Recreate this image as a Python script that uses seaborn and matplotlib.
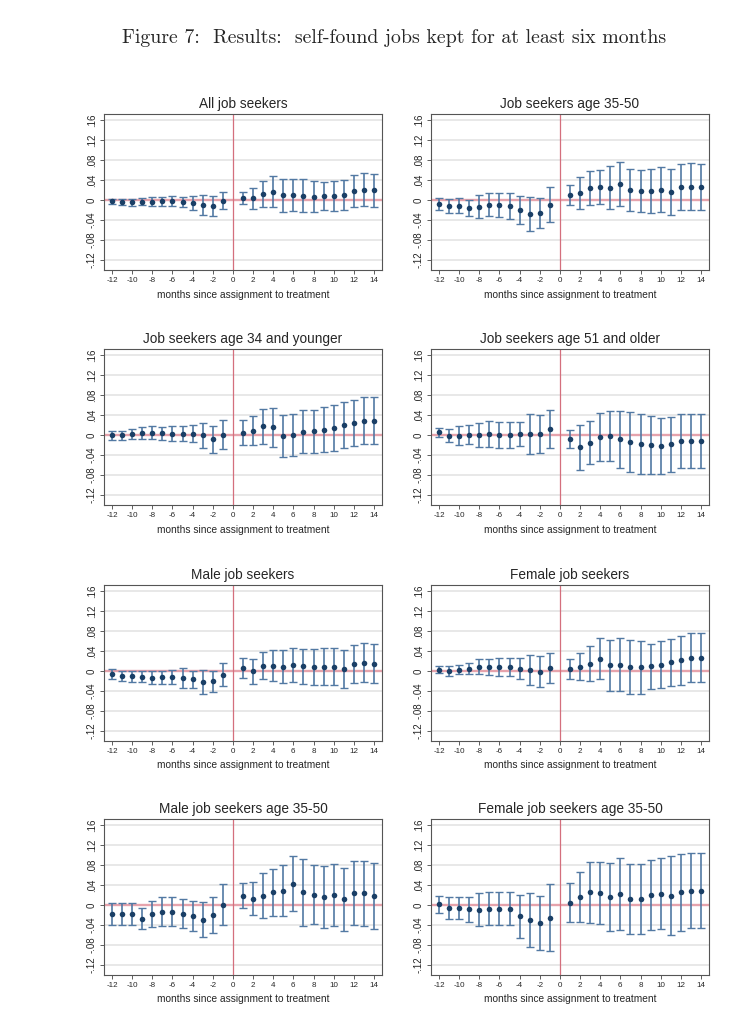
import numpy as np
import pandas as pd
import matplotlib
matplotlib.use("Agg")
import matplotlib.pyplot as plt
import seaborn as sns

# months relative to assignment (month 0 is the reference, not estimated)
months = [-12, -11, -10, -9, -8, -7, -6, -5, -4, -3, -2, -1,
          1, 2, 3, 4, 5, 6, 7, 8, 9, 10, 11, 12, 13, 14]

titles = ["All job seekers", "Job seekers age 35-50",
          "Job seekers age 34 and younger", "Job seekers age 51 and older",
          "Male job seekers", "Female job seekers",
          "Male job seekers age 35-50", "Female job seekers age 35-50"]

# point estimates and half-widths of the 95% CI
coef_all = [-0.002, -0.004, -0.004, -0.003, -0.003, -0.002, -0.002, -0.003, -0.006, -0.009, -0.012, -0.001,
            0.005, 0.004, 0.012, 0.017, 0.010, 0.011, 0.009, 0.007, 0.009, 0.009, 0.011, 0.018, 0.021, 0.020]
ci_all = [0.005, 0.006, 0.007, 0.007, 0.009, 0.009, 0.010, 0.010, 0.014, 0.020, 0.020, 0.017,
          0.012, 0.021, 0.026, 0.031, 0.033, 0.032, 0.033, 0.031, 0.028, 0.030, 0.030, 0.032, 0.033, 0.033]

coef_3550 = [-0.008, -0.011, -0.011, -0.015, -0.013, -0.009, -0.009, -0.011, -0.020, -0.027, -0.025, -0.009,
             0.011, 0.015, 0.024, 0.027, 0.025, 0.032, 0.020, 0.018, 0.019, 0.021, 0.016, 0.026, 0.027, 0.026]
ci_3550 = [0.012, 0.014, 0.015, 0.016, 0.023, 0.023, 0.024, 0.026, 0.028, 0.034, 0.030, 0.035,
           0.020, 0.032, 0.034, 0.034, 0.043, 0.044, 0.042, 0.042, 0.044, 0.045, 0.046, 0.046, 0.047, 0.046]

coef_young = [0.000, 0.000, 0.002, 0.005, 0.005, 0.004, 0.003, 0.003, 0.003, 0.000, -0.008, 0.001,
              0.005, 0.009, 0.018, 0.016, -0.002, 0.000, 0.007, 0.008, 0.011, 0.015, 0.020, 0.024, 0.029, 0.029]
ci_young = [0.009, 0.009, 0.010, 0.012, 0.013, 0.013, 0.015, 0.015, 0.017, 0.025, 0.027, 0.029,
            0.025, 0.029, 0.035, 0.039, 0.042, 0.042, 0.043, 0.043, 0.045, 0.046, 0.046, 0.046, 0.047, 0.047]

coef_old = [0.006, -0.001, -0.001, 0.001, 0.001, 0.002, 0.001, 0.001, 0.002, 0.003, 0.003, 0.012,
            -0.007, -0.024, -0.015, -0.004, -0.001, -0.008, -0.013, -0.018, -0.019, -0.021, -0.018, -0.011, -0.011, -0.011]
ci_old = [0.009, 0.013, 0.019, 0.019, 0.024, 0.026, 0.026, 0.026, 0.024, 0.040, 0.038, 0.038,
          0.018, 0.045, 0.043, 0.048, 0.050, 0.057, 0.060, 0.060, 0.058, 0.056, 0.055, 0.054, 0.054, 0.054]

coef_male = [-0.006, -0.009, -0.010, -0.011, -0.013, -0.012, -0.012, -0.014, -0.016, -0.021, -0.020, -0.007,
             0.007, 0.000, 0.011, 0.011, 0.009, 0.013, 0.010, 0.009, 0.009, 0.009, 0.005, 0.015, 0.017, 0.015]
ci_male = [0.010, 0.010, 0.011, 0.011, 0.013, 0.013, 0.014, 0.020, 0.017, 0.024, 0.021, 0.023,
           0.020, 0.025, 0.027, 0.031, 0.033, 0.034, 0.035, 0.036, 0.037, 0.037, 0.038, 0.038, 0.039, 0.039]

coef_female = [0.003, 0.001, 0.003, 0.005, 0.009, 0.009, 0.009, 0.009, 0.005, 0.003, -0.001, 0.007,
               0.005, 0.009, 0.015, 0.025, 0.012, 0.013, 0.009, 0.008, 0.010, 0.013, 0.018, 0.022, 0.027, 0.027]
ci_female = [0.007, 0.010, 0.009, 0.011, 0.015, 0.016, 0.018, 0.018, 0.021, 0.030, 0.031, 0.030,
             0.020, 0.027, 0.035, 0.041, 0.051, 0.053, 0.054, 0.053, 0.045, 0.047, 0.047, 0.049, 0.049, 0.049]

coef_male3550 = [-0.018, -0.018, -0.018, -0.027, -0.017, -0.013, -0.013, -0.017, -0.021, -0.029, -0.020, 0.001,
                 0.019, 0.013, 0.019, 0.026, 0.029, 0.043, 0.026, 0.021, 0.017, 0.021, 0.012, 0.024, 0.024, 0.019]
ci_male3550 = [0.022, 0.022, 0.022, 0.021, 0.026, 0.029, 0.029, 0.029, 0.030, 0.035, 0.036, 0.041,
               0.025, 0.033, 0.045, 0.047, 0.051, 0.055, 0.067, 0.059, 0.062, 0.062, 0.063, 0.064, 0.065, 0.066]

coef_female3550 = [0.002, -0.006, -0.006, -0.008, -0.009, -0.007, -0.007, -0.007, -0.022, -0.030, -0.035, -0.025,
                   0.005, 0.017, 0.026, 0.025, 0.017, 0.023, 0.013, 0.013, 0.021, 0.023, 0.019, 0.026, 0.029, 0.029]
ci_female3550 = [0.017, 0.022, 0.022, 0.025, 0.033, 0.033, 0.033, 0.033, 0.043, 0.054, 0.054, 0.067,
                 0.039, 0.050, 0.061, 0.062, 0.068, 0.072, 0.070, 0.070, 0.070, 0.071, 0.079, 0.077, 0.075, 0.075]

coefs = [coef_all, coef_3550, coef_young, coef_old, coef_male, coef_female, coef_male3550, coef_female3550]
cis = [ci_all, ci_3550, ci_young, ci_old, ci_male, ci_female, ci_male3550, ci_female3550]

ytick_vals = [-0.12, -0.08, -0.04, 0, 0.04, 0.08, 0.12, 0.16]
ytick_labels = ["-.12", "-.08", "-.04", "0", ".04", ".08", ".12", ".16"]
xtick_vals = [-12, -10, -8, -6, -4, -2, 0, 2, 4, 6, 8, 10, 12, 14]

frames = []
for t, c, h in zip(titles, coefs, cis):
    frames.append(pd.DataFrame({"group": t, "month": months, "coef": c,
                                "lo": np.array(c) - np.array(h), "hi": np.array(c) + np.array(h)}))
df = pd.concat(frames, ignore_index=True)

sns.set_theme(style="white")
plt.rcParams["font.family"] = ["Liberation Sans", "DejaVu Sans"]

NAVY = "#1a3f66"
BAR = "#5279a3"
REDLINE = "#d46f7d"

fig = plt.figure(figsize=(7.5, 10.31), dpi=100)
fig.text(394 / 750, 1 - 38 / 1031, "Figure 7:  Results:  self-found jobs kept for at least six months",
         ha="center", va="center", fontsize=14.3, family=["cmr10", "DejaVu Serif"])

lefts = [104 / 750, 431 / 750]
bottoms = [1 - 270 / 1031, 1 - 505 / 1031, 1 - 741 / 1031, 1 - 975 / 1031]
w = 278 / 750
h = 156 / 1031

for i, t in enumerate(titles):
    ax = fig.add_axes([lefts[i % 2], bottoms[i // 2], w, h])
    d = df[df["group"] == t]
    for yv in ytick_vals:
        if yv != 0:
            ax.axhline(yv, color="#e8e8e8", lw=1.4, zorder=0)
    ax.axhline(0, color="#e6a3ac", lw=1.7, zorder=1)
    ax.axvline(0, color=REDLINE, lw=0.9, zorder=1)
    ax.errorbar(d["month"], d["coef"], yerr=[d["coef"] - d["lo"], d["hi"] - d["coef"]],
                fmt="none", ecolor=BAR, elinewidth=1.2, capsize=2.6, capthick=1.0, zorder=2)
    sns.scatterplot(data=d, x="month", y="coef", ax=ax, color=NAVY, s=16,
                    edgecolor=NAVY, linewidth=0, zorder=3, legend=False)
    ax.set_xlim(-12.8, 14.8)
    ax.set_ylim(-0.14, 0.173)
    ax.set_xticks(xtick_vals)
    ax.set_xticklabels([str(v) for v in xtick_vals], fontsize=5.8)
    ax.set_yticks(ytick_vals)
    ax.set_yticklabels(ytick_labels, fontsize=7, rotation=90, va="center")
    ax.tick_params(axis="both", direction="out", length=3, width=0.6, color="#444444",
                   bottom=True, left=True, pad=2)
    ax.set_xlabel("months since assignment to treatment", fontsize=7.3, labelpad=4)
    ax.set_ylabel("")
    ax.set_title(t, fontsize=9.8, pad=4)
    for s in ax.spines.values():
        s.set_color("#555555")
        s.set_linewidth(0.8)

fig.savefig("out.png", dpi=100, facecolor="white")
